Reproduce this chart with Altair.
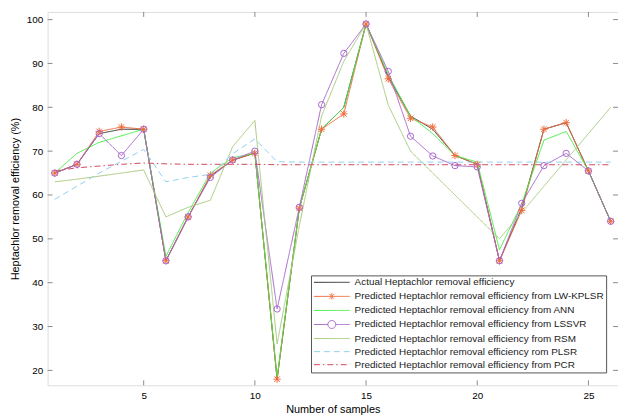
import altair as alt
import pandas as pd

samples = list(range(1, 27))
actual = [65, 67, 74, 75, 75, 45, 55, 64.3, 67.9, 69.6, 18, 57, 75, 80, 99, 87, 78, 75, 69, 67, 45, 57, 75, 76.5, 65.5, 54]
lwkplsr = [65, 67, 74.5, 75.5, 75, 45, 55, 64.5, 68, 69.5, 18, 57, 75, 78.5, 99, 86.5, 77.5, 75.5, 69, 67, 45, 56.5, 75, 76.5, 65.5, 54]
ann = [65, 69.5, 72, 73.5, 75, 46, 56, 65, 68.5, 69.5, 18.5, 57, 75, 80, 99, 87.5, 78, 74, 69, 67.5, 47.5, 58, 72.5, 74.5, 65.5, 54]
lssvr = [65, 67, 74, 69, 75, 45, 55, 64, 68, 70, 34, 57.2, 80.6, 92.3, 99, 88.2, 73.4, 68.9, 66.7, 66.4, 45, 58.1, 66.7, 69.5, 65.5, 54]
rsm = [63, 63.6, 64.3, 65, 65.7, 55, 57.2, 58.8, 71, 77, 26, 53, 78, 90.5, 99, 80.5, 70, 65, 60, 55, 50, 56, 62, 68, 74, 80]
plsr = [59, 62, 65, 67.7, 70.4, 63, 64, 64.7, 69.4, 72.8, 67.6, 67.5, 67.5, 67.5, 67.5, 67.5, 67.5, 67.5, 67.5, 67.5, 67.5, 67.5, 67.5, 67.5, 67.5, 67.5]
pcr = [65.5, 66.2, 66.6, 67, 67.3, 67.1, 67, 67, 67, 67, 66.9, 66.9, 66.9, 66.9, 66.9, 66.9, 66.9, 66.9, 66.9, 66.9, 66.9, 66.9, 66.9, 66.9, 66.9, 66.9]

names = [
    "Actual Heptachlor removal efficiency",
    "Predicted Heptachlor removal efficiency from LW-KPLSR",
    "Predicted Heptachlor removal efficiency from ANN",
    "Predicted Heptachlor removal efficiency from LSSVR",
    "Predicted Heptachlor removal efficiency from RSM",
    "Predicted Heptachlor removal efficiency rom PLSR",
    "Predicted Heptachlor removal efficiency from PCR",
]
series = [actual, lwkplsr, ann, lssvr, rsm, plsr, pcr]
colors = ["#2f2f2f", "#f06a3c", "#44ee44", "#a866cc", "#a6c87a", "#8fd0ee", "#d2475e"]
dashes = [[1, 0], [1, 0], [1, 0], [1, 0], [1, 0], [6, 4], [6, 3, 1.5, 3]]

x_ticks = [5, 10, 15, 20, 25]
y_ticks = [20, 30, 40, 50, 60, 70, 80, 90, 100]

rows = []
for name, vals in zip(names, series):
    for s, v in zip(samples, vals):
        rows.append({"sample": s, "value": v, "series": name})
df = pd.DataFrame(rows)

W, H = 576, 377
GRAY = "#8a8a8a"
FONT = "Liberation Sans"

xscale = alt.Scale(domain=[0.68, 26.33], nice=False, zero=False)
yscale = alt.Scale(domain=[16.6, 101.74], nice=False, zero=False)

star_path = "M-1,0L1,0M0,-1L0,1M-0.75,-0.75L0.75,0.75M-0.75,0.75L0.75,-0.75"
line_path = "M-4.5,0L4.5,0"
star_leg = "M-4.5,0L4.5,0M0,-0.8L0,0.8M-0.6,-0.6L0.6,0.6M-0.6,0.6L0.6,-0.6"
circ_leg = "M-4.5,0L-1,0M1,0L4.5,0M-1,0A1,1 0 1,0 1,0A1,1 0 1,0 -1,0"
shape_sig = ("datum.value === '" + names[1] + "' ? '" + star_leg + "' : "
             "(datum.value === '" + names[3] + "' ? '" + circ_leg + "' : '" + line_path + "')")

legend = alt.Legend(
    orient="none", legendX=266, legendY=266, title=None,
    symbolType=alt.ExprRef(expr=shape_sig), symbolSize=64, symbolStrokeWidth=1,
    symbolFillColor="transparent",
    symbolOffset=14, labelOffset=18, labelFontSize=10, labelLimit=400,
    labelFont=FONT, labelColor="#1a1a1a",
    strokeColor="#555555", fillColor="white", padding=2, rowPadding=3.2,
)

lines = alt.Chart(df).mark_line(strokeWidth=1).encode(
    x=alt.X("sample:Q", scale=xscale,
            axis=alt.Axis(values=x_ticks, title="Number of samples", ticks=False, domain=False,
                          grid=False, labelPadding=5, titlePadding=3, titleFontWeight="normal")),
    y=alt.Y("value:Q", scale=yscale,
            axis=alt.Axis(values=y_ticks, title="Heptachlor removal efficiency (%)", ticks=False,
                          domain=False, grid=False, labelPadding=5, titlePadding=6,
                          titleFontWeight="normal")),
    color=alt.Color("series:N", scale=alt.Scale(domain=names, range=colors), legend=legend),
    strokeDash=alt.StrokeDash("series:N", scale=alt.Scale(domain=names, range=dashes), legend=legend),
)

stars = alt.Chart(pd.DataFrame({"sample": samples, "value": lwkplsr})).mark_point(
    shape=star_path, size=56, filled=False, color=colors[1], strokeWidth=1, opacity=1
).encode(x=alt.X("sample:Q", scale=xscale), y=alt.Y("value:Q", scale=yscale))

circles = alt.Chart(pd.DataFrame({"sample": samples, "value": lssvr})).mark_point(
    shape="circle", size=40, filled=False, color=colors[3], strokeWidth=1, opacity=1
).encode(x=alt.X("sample:Q", scale=xscale), y=alt.Y("value:Q", scale=yscale))

ydf = pd.DataFrame({"v": y_ticks})
xdf = pd.DataFrame({"v": x_ticks})
yl = alt.Chart(ydf).mark_rule(color=GRAY).encode(y=alt.Y("v:Q", scale=yscale), x=alt.value(0), x2=alt.value(5))
yr = alt.Chart(ydf).mark_rule(color=GRAY).encode(y=alt.Y("v:Q", scale=yscale), x=alt.value(W - 5), x2=alt.value(W))
xb = alt.Chart(xdf).mark_rule(color=GRAY).encode(x=alt.X("v:Q", scale=xscale), y=alt.value(H - 5), y2=alt.value(H))
xt = alt.Chart(xdf).mark_rule(color=GRAY).encode(x=alt.X("v:Q", scale=xscale), y=alt.value(0), y2=alt.value(5))

chart = alt.layer(lines, stars, circles, yl, yr, xb, xt).properties(
    width=W, height=H,
    autosize=alt.AutoSizeParams(type="none"),
    padding={"left": 40, "top": 2, "right": 0, "bottom": 30},
).configure_view(stroke=GRAY, strokeWidth=1).configure_axis(
    labelFont=FONT, labelFontSize=10, labelColor="#333333",
    titleFont=FONT, titleFontSize=12, titleFontWeight="normal", titleColor="#111111",
).configure(background="white")

chart.save("out.html", embed_options={"renderer": "svg", "actions": False})
